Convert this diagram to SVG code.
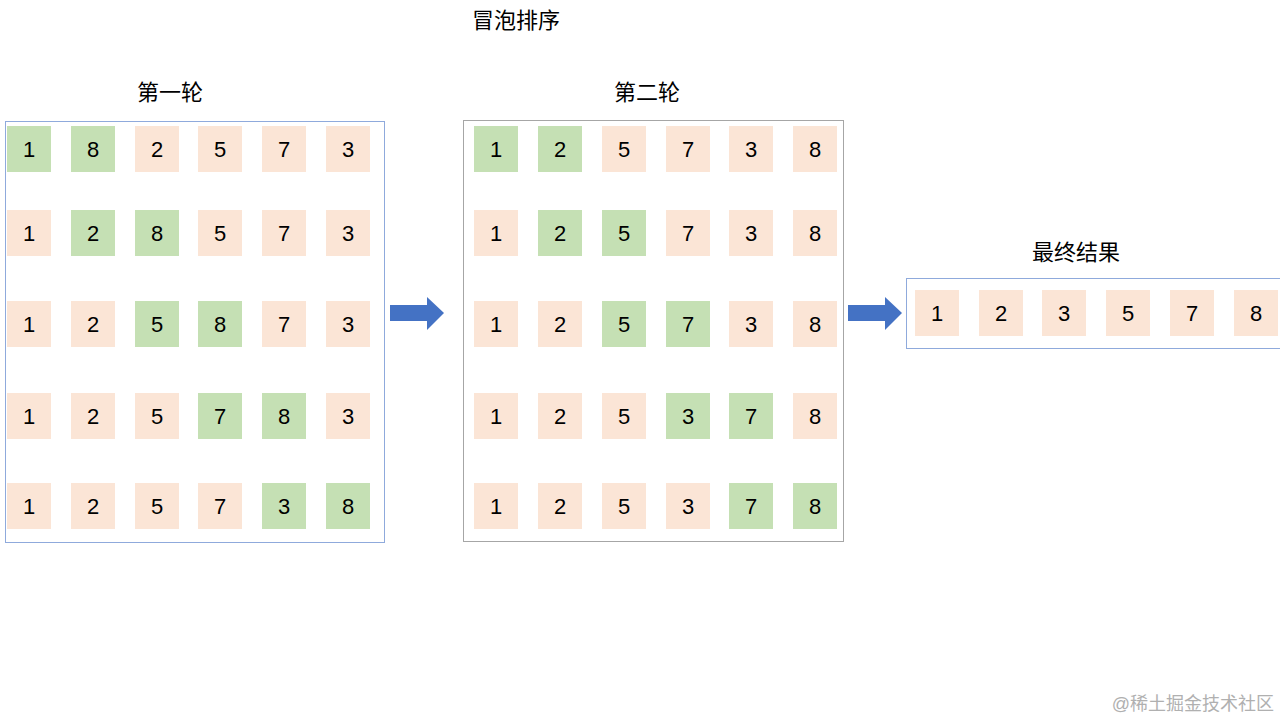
<svg xmlns="http://www.w3.org/2000/svg" width="1280" height="720" viewBox="0 0 1280 720">
<style>
text{font-family:"Liberation Sans","Noto Sans CJK SC",sans-serif;fill:#000}
.n{font-size:22px;text-anchor:middle;dominant-baseline:central}
.t{font-size:22px;text-anchor:middle}
.g{fill:#c5e0b4}.p{fill:#fbe5d6}
.box{fill:none;stroke-width:1}
.ar{fill:#4472c4}
</style>
<defs>
<rect id="c" width="44" height="46"/>
</defs>
<rect width="1280" height="720" fill="#fff"/>
<text class="t" x="516" y="28">冒泡排序</text>
<text class="t" x="170" y="100">第一轮</text>
<text class="t" x="647" y="100">第二轮</text>
<text class="t" x="1076" y="260">最终结果</text>
<g id="round1">
<rect class="box" x="5.5" y="121.5" width="379" height="421" stroke="#8faadc"/>
<g transform="translate(7,126)">
<use href="#c" x="0" class="g"/><use href="#c" x="64" class="g"/><use href="#c" x="128" class="p"/><use href="#c" x="191" class="p"/><use href="#c" x="255" class="p"/><use href="#c" x="319" class="p"/>
<text class="n" x="22" y="23">1</text><text class="n" x="86" y="23">8</text><text class="n" x="150" y="23">2</text><text class="n" x="213" y="23">5</text><text class="n" x="277" y="23">7</text><text class="n" x="341" y="23">3</text>
</g>
<g transform="translate(7,210)">
<use href="#c" x="0" class="p"/><use href="#c" x="64" class="g"/><use href="#c" x="128" class="g"/><use href="#c" x="191" class="p"/><use href="#c" x="255" class="p"/><use href="#c" x="319" class="p"/>
<text class="n" x="22" y="23">1</text><text class="n" x="86" y="23">2</text><text class="n" x="150" y="23">8</text><text class="n" x="213" y="23">5</text><text class="n" x="277" y="23">7</text><text class="n" x="341" y="23">3</text>
</g>
<g transform="translate(7,301)">
<use href="#c" x="0" class="p"/><use href="#c" x="64" class="p"/><use href="#c" x="128" class="g"/><use href="#c" x="191" class="g"/><use href="#c" x="255" class="p"/><use href="#c" x="319" class="p"/>
<text class="n" x="22" y="23">1</text><text class="n" x="86" y="23">2</text><text class="n" x="150" y="23">5</text><text class="n" x="213" y="23">8</text><text class="n" x="277" y="23">7</text><text class="n" x="341" y="23">3</text>
</g>
<g transform="translate(7,393)">
<use href="#c" x="0" class="p"/><use href="#c" x="64" class="p"/><use href="#c" x="128" class="p"/><use href="#c" x="191" class="g"/><use href="#c" x="255" class="g"/><use href="#c" x="319" class="p"/>
<text class="n" x="22" y="23">1</text><text class="n" x="86" y="23">2</text><text class="n" x="150" y="23">5</text><text class="n" x="213" y="23">7</text><text class="n" x="277" y="23">8</text><text class="n" x="341" y="23">3</text>
</g>
<g transform="translate(7,483)">
<use href="#c" x="0" class="p"/><use href="#c" x="64" class="p"/><use href="#c" x="128" class="p"/><use href="#c" x="191" class="p"/><use href="#c" x="255" class="g"/><use href="#c" x="319" class="g"/>
<text class="n" x="22" y="23">1</text><text class="n" x="86" y="23">2</text><text class="n" x="150" y="23">5</text><text class="n" x="213" y="23">7</text><text class="n" x="277" y="23">3</text><text class="n" x="341" y="23">8</text>
</g>
</g>
<g id="round2">
<rect class="box" x="463.5" y="120.5" width="380" height="421" stroke="#a6a6a6"/>
<g transform="translate(474,126)">
<use href="#c" x="0" class="g"/><use href="#c" x="64" class="g"/><use href="#c" x="128" class="p"/><use href="#c" x="192" class="p"/><use href="#c" x="255" class="p"/><use href="#c" x="319" class="p"/>
<text class="n" x="22" y="23">1</text><text class="n" x="86" y="23">2</text><text class="n" x="150" y="23">5</text><text class="n" x="214" y="23">7</text><text class="n" x="277" y="23">3</text><text class="n" x="341" y="23">8</text>
</g>
<g transform="translate(474,210)">
<use href="#c" x="0" class="p"/><use href="#c" x="64" class="g"/><use href="#c" x="128" class="g"/><use href="#c" x="192" class="p"/><use href="#c" x="255" class="p"/><use href="#c" x="319" class="p"/>
<text class="n" x="22" y="23">1</text><text class="n" x="86" y="23">2</text><text class="n" x="150" y="23">5</text><text class="n" x="214" y="23">7</text><text class="n" x="277" y="23">3</text><text class="n" x="341" y="23">8</text>
</g>
<g transform="translate(474,301)">
<use href="#c" x="0" class="p"/><use href="#c" x="64" class="p"/><use href="#c" x="128" class="g"/><use href="#c" x="192" class="g"/><use href="#c" x="255" class="p"/><use href="#c" x="319" class="p"/>
<text class="n" x="22" y="23">1</text><text class="n" x="86" y="23">2</text><text class="n" x="150" y="23">5</text><text class="n" x="214" y="23">7</text><text class="n" x="277" y="23">3</text><text class="n" x="341" y="23">8</text>
</g>
<g transform="translate(474,393)">
<use href="#c" x="0" class="p"/><use href="#c" x="64" class="p"/><use href="#c" x="128" class="p"/><use href="#c" x="192" class="g"/><use href="#c" x="255" class="g"/><use href="#c" x="319" class="p"/>
<text class="n" x="22" y="23">1</text><text class="n" x="86" y="23">2</text><text class="n" x="150" y="23">5</text><text class="n" x="214" y="23">3</text><text class="n" x="277" y="23">7</text><text class="n" x="341" y="23">8</text>
</g>
<g transform="translate(474,483)">
<use href="#c" x="0" class="p"/><use href="#c" x="64" class="p"/><use href="#c" x="128" class="p"/><use href="#c" x="192" class="p"/><use href="#c" x="255" class="g"/><use href="#c" x="319" class="g"/>
<text class="n" x="22" y="23">1</text><text class="n" x="86" y="23">2</text><text class="n" x="150" y="23">5</text><text class="n" x="214" y="23">3</text><text class="n" x="277" y="23">7</text><text class="n" x="341" y="23">8</text>
</g>
</g>
<g id="result">
<rect class="box" x="906.5" y="278.5" width="380" height="70" stroke="#8faadc"/>
<g transform="translate(915,290)">
<use href="#c" x="0" class="p"/><use href="#c" x="64" class="p"/><use href="#c" x="127" class="p"/><use href="#c" x="191" class="p"/><use href="#c" x="255" class="p"/><use href="#c" x="319" class="p"/>
<text class="n" x="22" y="23">1</text><text class="n" x="86" y="23">2</text><text class="n" x="149" y="23">3</text><text class="n" x="213" y="23">5</text><text class="n" x="277" y="23">7</text><text class="n" x="341" y="23">8</text>
</g>
</g>
<g id="connectors">
<polygon class="ar" points="390,305 427,305 427,297 444,313 427,330 427,321 390,321"/>
<polygon class="ar" points="848,305 885,305 885,297 902,313 885,330 885,321 848,321"/>
</g>
<text x="1274" y="710" style="font-size:18px;fill:#b0b0b0;text-anchor:end">@稀土掘金技术社区</text>
</svg>
